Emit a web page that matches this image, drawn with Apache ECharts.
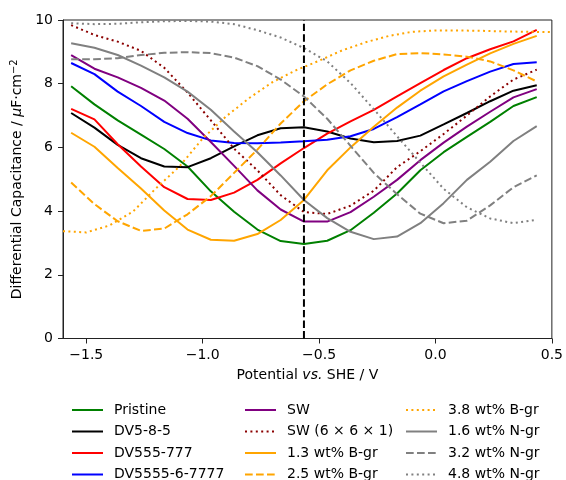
<!DOCTYPE html>
<html>
<head>
<meta charset="utf-8">
<script src="https://cdn.jsdelivr.net/npm/echarts@6/dist/echarts.min.js"></script>
<style>
  html, body { margin: 0; padding: 0; background: #fff; }
  #chart { width: 566px; height: 480px; }
</style>
</head>
<body>
<div id="chart"></div>
<script>
  // 电位 (V vs. SHE)
  const potential = [-1.565, -1.465, -1.365, -1.265, -1.165, -1.065, -0.965, -0.865, -0.765, -0.665, -0.565,
    -0.465, -0.365, -0.265, -0.165, -0.065, 0.035, 0.135, 0.235, 0.335, 0.435];
  const potentialB38 = [-1.6, -1.5, -1.4, -1.3, -1.2, -1.1, -1.0, -0.9, -0.8, -0.7, -0.6,
    -0.5, -0.4, -0.3, -0.2, -0.1, 0.0, 0.1, 0.2, 0.3, 0.4, 0.5];
  const pzcPotential = -0.565;

  const pristine = [7.92, 7.35, 6.85, 6.4, 5.95, 5.4, 4.62, 3.98, 3.42, 3.06, 2.97, 3.07, 3.4, 3.95, 4.55, 5.28, 5.85, 6.33, 6.8, 7.3, 7.58];
  const dv585 = [7.08, 6.62, 6.08, 5.66, 5.4, 5.38, 5.66, 6.03, 6.38, 6.6, 6.63, 6.5, 6.28, 6.16, 6.2, 6.37, 6.72, 7.08, 7.45, 7.78, 7.95];
  const dv555777 = [7.21, 6.88, 6.1, 5.4, 4.75, 4.38, 4.35, 4.58, 4.98, 5.5, 5.98, 6.43, 6.82, 7.18, 7.6, 8.02, 8.43, 8.8, 9.08, 9.33, 9.69];
  const dv5555 = [8.65, 8.3, 7.75, 7.3, 6.8, 6.45, 6.22, 6.14, 6.13, 6.15, 6.19, 6.24, 6.35, 6.58, 6.95, 7.35, 7.76, 8.08, 8.38, 8.62, 8.67];
  const sw = [8.9, 8.47, 8.2, 7.87, 7.47, 6.9, 6.17, 5.42, 4.65, 4.05, 3.67, 3.67, 3.97, 4.45, 4.98, 5.6, 6.15, 6.65, 7.12, 7.57, 7.83];
  const sw661 = [9.84, 9.53, 9.32, 9.03, 8.5, 7.72, 6.85, 5.96, 5.28, 4.5, 3.97, 3.91, 4.17, 4.64, 5.38, 5.88, 6.42, 7.0, 7.6, 8.13, 8.44];
  const b13 = [6.46, 6.02, 5.35, 4.71, 4.02, 3.42, 3.1, 3.07, 3.28, 3.72, 4.35, 5.28, 6.0, 6.65, 7.25, 7.78, 8.23, 8.6, 8.95, 9.25, 9.5];
  const b25 = [4.9, 4.22, 3.68, 3.38, 3.45, 3.9, 4.47, 5.2, 5.93, 6.75, 7.45, 7.98, 8.42, 8.72, 8.93, 8.96, 8.92, 8.85, 8.7, 8.42, 8.07];
  const b38 = [3.37, 3.33, 3.55, 3.98, 4.72, 5.4, 6.28, 6.97, 7.55, 8.05, 8.42, 8.72, 9.05, 9.3, 9.5, 9.63, 9.67, 9.67, 9.66, 9.64, 9.63, 9.62];
  const n16 = [9.27, 9.13, 8.9, 8.57, 8.2, 7.75, 7.18, 6.5, 5.85, 5.12, 4.35, 3.78, 3.35, 3.12, 3.2, 3.62, 4.25, 4.98, 5.55, 6.2, 6.67];
  const n32 = [8.77, 8.77, 8.8, 8.9, 8.97, 8.99, 8.96, 8.82, 8.55, 8.13, 7.6, 6.9, 6.05, 5.2, 4.53, 3.92, 3.62, 3.7, 4.18, 4.75, 5.12];
  const n48 = [9.9, 9.87, 9.88, 9.93, 9.96, 9.97, 9.95, 9.87, 9.68, 9.45, 9.12, 8.7, 8.02, 7.2, 6.35, 5.52, 4.7, 4.12, 3.77, 3.62, 3.73];

  const xTicks = [-1.5, -1.0, -0.5, 0.0, 0.5];

  const DASH = [7.7, 3.3];
  const DOT = [2, 3.4];
  const FONT = 'DejaVu Sans';

  const seriesDefs = [
    { name: 'Pristine', x: potential, y: pristine, color: '#008000', type: 'solid' },
    { name: 'DV5-8-5', x: potential, y: dv585, color: '#000000', type: 'solid' },
    { name: 'DV555-777', x: potential, y: dv555777, color: '#ff0000', type: 'solid' },
    { name: 'DV5555-6-7777', x: potential, y: dv5555, color: '#0000ff', type: 'solid' },
    { name: 'SW', x: potential, y: sw, color: '#800080', type: 'solid' },
    { name: 'SW (6 × 6 × 1)', x: potential, y: sw661, color: '#8b0000', type: DOT },
    { name: '1.3 wt% B-gr', x: potential, y: b13, color: '#ffa500', type: 'solid' },
    { name: '2.5 wt% B-gr', x: potential, y: b25, color: '#ffa500', type: DASH },
    { name: '3.8 wt% B-gr', x: potentialB38, y: b38, color: '#ffa500', type: DOT },
    { name: '1.6 wt% N-gr', x: potential, y: n16, color: '#808080', type: 'solid' },
    { name: '3.2 wt% N-gr', x: potential, y: n32, color: '#808080', type: DASH },
    { name: '4.8 wt% N-gr', x: potential, y: n48, color: '#808080', type: DOT },
  ];

  const fmtTick = (v) => (v < 0 ? '\u2212' : '') + Math.abs(v).toFixed(1);

  // 图例分三列，每列四项
  const makeLegend = (names, left) => ({
    data: names,
    orient: 'vertical',
    left: left,
    top: 398,
    height: 120,
    itemWidth: 31,
    itemHeight: 14,
    itemGap: 7.5,
    itemStyle: { opacity: 0 },
    textStyle: { fontFamily: FONT, fontSize: 14, color: '#000', padding: [0, 0, 0, 6] },
  });

  const chart = echarts.init(document.getElementById('chart'), null, { renderer: 'canvas' });

  const option = {
    animation: false,
    textStyle: { fontFamily: FONT },
    grid: {
      left: 63,
      right: 11.5,
      top: 20,
      bottom: 141.5,
      show: true,
      borderColor: '#222',
      borderWidth: 1,
      backgroundColor: 'transparent',
    },
    legend: [
      makeLegend(seriesDefs.slice(0, 4).map((s) => s.name), 66),
      makeLegend(seriesDefs.slice(4, 8).map((s) => s.name), 239),
      makeLegend(seriesDefs.slice(8, 12).map((s) => s.name), 400),
    ],
    xAxis: {
      type: 'value',
      min: -1.6,
      max: 0.5,
      name: 'Potential {it|vs.} SHE / V',
      nameLocation: 'middle',
      nameGap: 30,
      nameTextStyle: {
        fontFamily: FONT,
        fontSize: 14,
        color: '#000',
        rich: { it: { fontFamily: FONT, fontSize: 14, fontStyle: 'italic', color: '#000' } },
      },
      axisLine: { show: true, onZero: false, lineStyle: { color: '#222', width: 1 } },
      axisTick: { show: true, inside: false, length: 5, customValues: xTicks, lineStyle: { color: '#222' } },
      axisLabel: {
        customValues: xTicks,
        formatter: fmtTick,
        fontFamily: FONT,
        fontSize: 14,
        color: '#000',
        margin: 10,
      },
      splitLine: { show: false },
    },
    yAxis: {
      type: 'value',
      min: 0,
      max: 10,
      interval: 2,
      name: 'Differential Capacitance / {it|μ}F·cm{sup|−2}',
      nameLocation: 'middle',
      nameRotate: 90,
      nameGap: 36,
      nameTextStyle: {
        fontFamily: FONT,
        fontSize: 14,
        color: '#000',
        rich: {
          it: { fontFamily: FONT, fontSize: 14, fontStyle: 'italic', color: '#000' },
          sup: { fontFamily: FONT, fontSize: 10, color: '#000', verticalAlign: 'top', padding: [0, 0, 6, 0] },
        },
      },
      axisLine: { show: true, onZero: false, lineStyle: { color: '#222', width: 1 } },
      axisTick: { show: true, inside: false, length: 5, lineStyle: { color: '#222' } },
      axisLabel: { fontFamily: FONT, fontSize: 14, color: '#000', margin: 10 },
      splitLine: { show: false },
    },
    series: seriesDefs
      .map((s) => ({
        name: s.name,
        type: 'line',
        data: s.x.map((x, i) => [x, s.y[i]]),
        symbol: 'none',
        smooth: false,
        color: s.color,
        lineStyle: { color: s.color, width: 2, type: s.type, cap: 'butt' },
        itemStyle: { color: s.color },
        emphasis: { disabled: true },
      }))
      .concat([
        {
          name: 'PZC',
          type: 'line',
          data: [[pzcPotential, 0], [pzcPotential, 10]],
          symbol: 'none',
          lineStyle: { color: '#000', width: 2, type: [7.4, 3.2] },
          emphasis: { disabled: true },
          z: 5,
        },
      ]),
  };

  chart.setOption(option);
</script>
</body>
</html>
